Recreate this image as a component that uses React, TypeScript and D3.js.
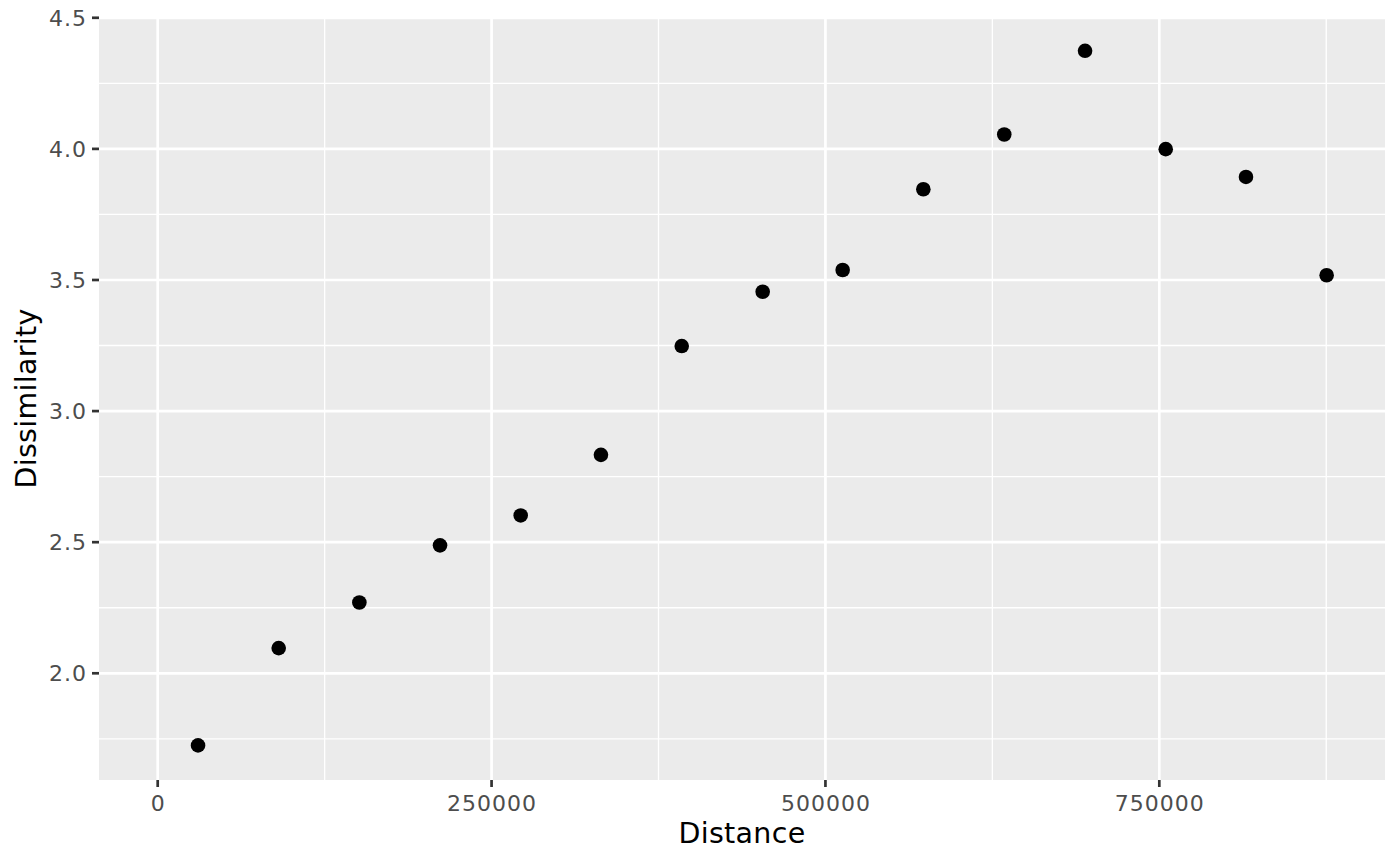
import React from "react";
import * as d3 from "d3";

const distance: number[] = [30200, 90600, 151000, 211400, 271800, 331900, 392400, 453000, 512900, 573300, 633900, 694400, 754800, 814900, 875300];
const dissimilarity: number[] = [1.725, 2.096, 2.270, 2.488, 2.602, 2.833, 3.248, 3.455, 3.538, 3.846, 4.055, 4.374, 3.999, 3.893, 3.518];
const xTicks: number[] = [0, 250000, 500000, 750000];
const xMinor: number[] = [125000, 375000, 625000, 875000];
const yTicks: number[] = [2.0, 2.5, 3.0, 3.5, 4.0, 4.5];
const yMinor: number[] = [1.75, 2.25, 2.75, 3.25, 3.75, 4.25];
const xTitle = "Distance";
const yTitle = "Dissimilarity";

const W = 1400;
const H = 865;
const panel = { left: 99, right: 1385, top: 17, bottom: 780 };

export default function App() {
  const x = d3.scaleLinear().domain([-43955, 919000]).range([panel.left, panel.right]);
  const y = d3.scaleLinear().domain([1.593, 4.503]).range([panel.bottom, panel.top]);
  const font = "'DejaVu Sans', sans-serif";
  return (
    <svg width={W} height={H} style={{ position: "absolute", left: 0, top: 0, background: "#fff" }}>
      <rect x={panel.left} y={panel.top} width={panel.right - panel.left} height={panel.bottom - panel.top} fill="#EBEBEB" />
      {xMinor.map((v) => (
        <line key={"xm" + v} x1={x(v)} x2={x(v)} y1={panel.top} y2={panel.bottom} stroke="#fff" strokeWidth={1.35} />
      ))}
      {yMinor.map((v) => (
        <line key={"ym" + v} y1={y(v)} y2={y(v)} x1={panel.left} x2={panel.right} stroke="#fff" strokeWidth={1.35} />
      ))}
      {xTicks.map((v) => (
        <line key={"xM" + v} x1={x(v)} x2={x(v)} y1={panel.top} y2={panel.bottom} stroke="#fff" strokeWidth={2.7} />
      ))}
      {yTicks.map((v) => (
        <line key={"yM" + v} y1={y(v)} y2={y(v)} x1={panel.left} x2={panel.right} stroke="#fff" strokeWidth={2.7} />
      ))}
      {distance.map((d, i) => (
        <circle key={"p" + i} cx={x(d)} cy={y(dissimilarity[i])} r={7.3} fill="#000" />
      ))}
      {xTicks.map((v) => (
        <g key={"xt" + v}>
          <line x1={x(v)} x2={x(v)} y1={panel.bottom} y2={panel.bottom + 7} stroke="#333333" strokeWidth={2.7} />
          <text x={x(v) + 0.5} y={811} textAnchor="middle" fontFamily={font} fontSize={22} letterSpacing={1} fill="#4D4D4D">
            {d3.format("d")(v)}
          </text>
        </g>
      ))}
      {yTicks.map((v) => (
        <g key={"yt" + v}>
          <line x1={panel.left - 7} x2={panel.left} y1={y(v)} y2={y(v)} stroke="#333333" strokeWidth={2.7} />
          <text x={87} y={y(v)} dy="0.36em" textAnchor="end" fontFamily={font} fontSize={22} letterSpacing={1} fill="#4D4D4D">
            {d3.format(".1f")(v)}
          </text>
        </g>
      ))}
      <text x={(panel.left + panel.right) / 2} y={843} textAnchor="middle" fontFamily={font} fontSize={28.5} letterSpacing={0.3} fill="#000">
        {xTitle}
      </text>
      <text
        transform={`translate(35.7, ${(panel.top + panel.bottom) / 2}) rotate(-90)`}
        textAnchor="middle"
        fontFamily={font}
        fontSize={28.5}
        letterSpacing={0.3}
        fill="#000"
      >
        {yTitle}
      </text>
    </svg>
  );
}
